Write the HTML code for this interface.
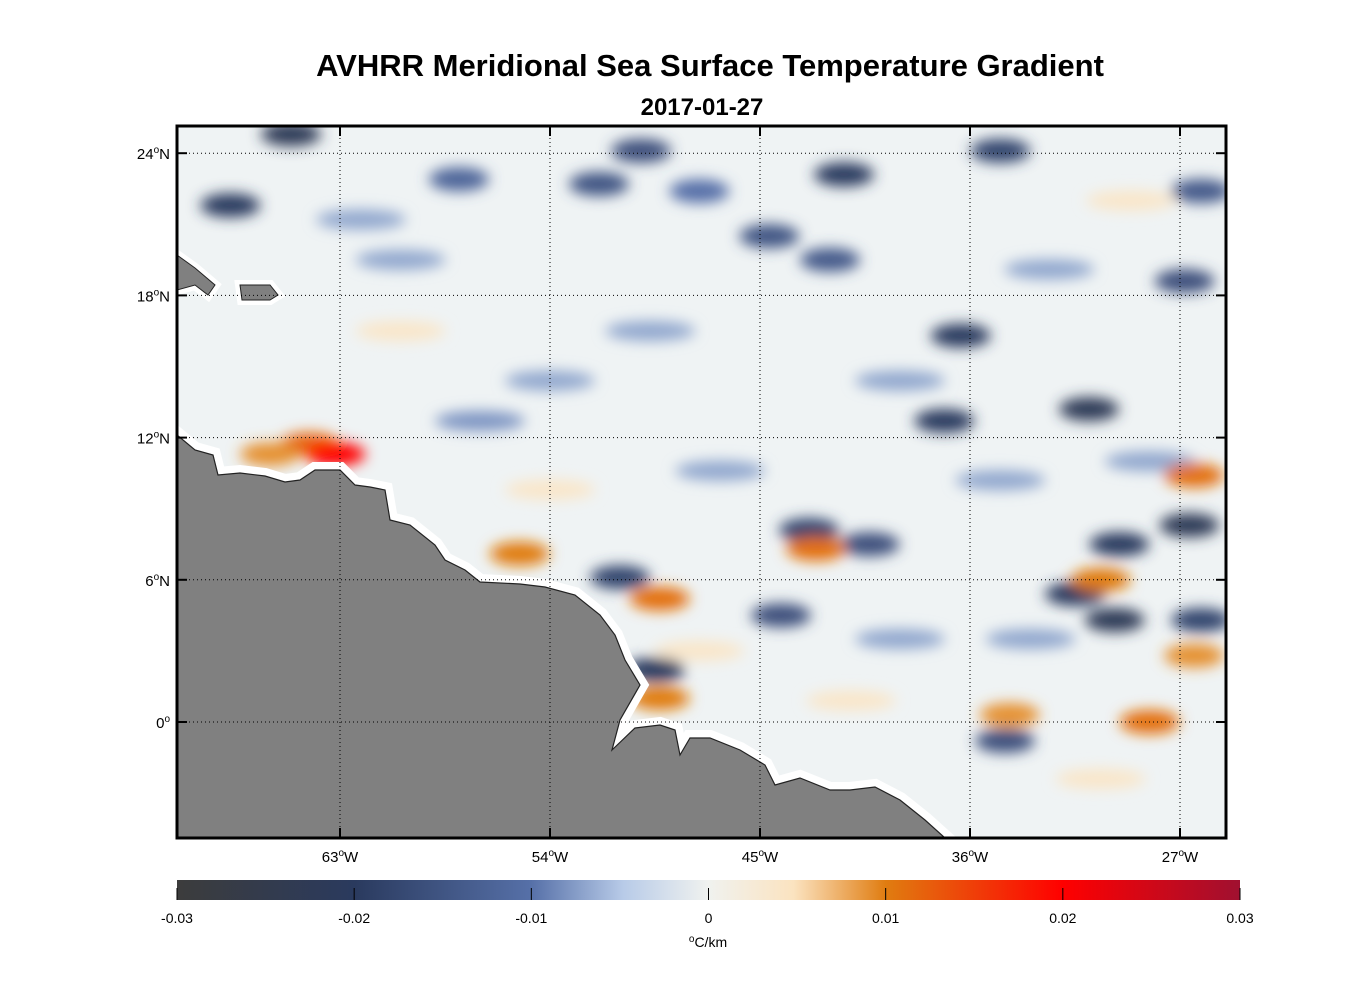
<!DOCTYPE html>
<html><head><meta charset="utf-8"><style>
body{margin:0;background:#fff;font-family:"Liberation Sans",sans-serif}
svg{display:block}
</style></head><body>
<svg id="c" width="1356" height="1000" xmlns="http://www.w3.org/2000/svg">
<defs>
<filter id="bl" x="-50%" y="-50%" width="200%" height="200%"><feGaussianBlur stdDeviation="7"/></filter>
<clipPath id="mc"><rect x="177" y="126" width="1049" height="712"/></clipPath>
<linearGradient id="cb" x1="0" x2="1" y1="0" y2="0">
<stop offset="0" stop-color="#3c3c3c"/><stop offset="0.167" stop-color="#2a3a5e"/>
<stop offset="0.333" stop-color="#5670a8"/><stop offset="0.42" stop-color="#b8cbe8"/>
<stop offset="0.5" stop-color="#f0f2ef"/><stop offset="0.58" stop-color="#fbe3c0"/>
<stop offset="0.667" stop-color="#e07c10"/><stop offset="0.833" stop-color="#ff0000"/>
<stop offset="1" stop-color="#a01030"/></linearGradient>
</defs>
<text x="710" y="76" text-anchor="middle" font-size="31" font-weight="bold">AVHRR Meridional Sea Surface Temperature Gradient</text>
<text x="702" y="115" text-anchor="middle" font-size="24" font-weight="bold">2017-01-27</text>
<g id="map" clip-path="url(#mc)">
<rect x="177" y="126" width="1049" height="712" fill="#eff3f4"/>
<g id="blobs" filter="url(#bl)"></g>
<g id="land"></g>
<g id="grid"></g>
</g>
<rect x="177" y="126" width="1049" height="712" fill="none" stroke="#000" stroke-width="3"/>
<g id="axes"></g>
<rect x="177" y="880" width="1063" height="20" fill="url(#cb)"/>
<g id="cbt"></g>
<text x="708" y="947" text-anchor="middle" font-size="14"><tspan font-size="10" dy="-5">o</tspan><tspan dy="5">C/km</tspan></text>
</svg>
<script>
const lonTicks=[63,54,45,36,27];
const latTicks=[24,18,12,6,0];
const cbTicks=[-0.03,-0.02,-0.01,0,0.01,0.02,0.03];
const cbLabels=["-0.03","-0.02","-0.01","0","0.01","0.02","0.03"];
// features: [lonW, lat, value]
const blobLon=[65.1,67.7,50.1,41.4,34.7,51.9,57.9,44.6,42,36.4,37.1,30.9,26.6,29.6,31.5,29.8,26.1,42.9,40.3,51,44.1,49.5,34.5,26.8,26.1,57,47.6,
60.4,54,49.7,39,32.6,46.7,34.7,39,33.4,28.3,62.1,
64.3,63.2,55.3,49.3,42.6,34.3,28.3,30.4,26.4,26.4,49.3,66,
54,47.6,41.1,30.4,60.4,29.1];
const blobLat=[24.8,21.8,24.1,23.1,24.1,22.7,22.9,20.5,19.5,16.3,12.7,13.2,8.3,7.5,5.4,4.3,4.3,8.1,7.5,6.1,4.5,2.2,-0.8,18.6,22.4,12.7,22.4,
19.5,14.4,16.5,14.4,19.1,10.6,10.2,3.5,3.5,11,21.2,
11.7,11.3,7.1,5.2,7.3,0.3,0,6,10.4,2.8,1,11.3,
9.8,3,0.9,-2.4,16.5,22];
const blobVal=[-0.022,-0.02,-0.016,-0.02,-0.018,-0.015,-0.012,-0.015,-0.014,-0.02,-0.02,-0.022,-0.022,-0.02,-0.02,-0.022,-0.018,-0.018,-0.016,-0.018,-0.016,-0.02,-0.016,-0.016,-0.014,-0.008,-0.01,
-0.007,-0.007,-0.007,-0.007,-0.007,-0.007,-0.007,-0.007,-0.007,-0.007,-0.007,
0.012,0.02,0.01,0.011,0.011,0.009,0.011,0.01,0.011,0.009,0.01,0.009,
0.004,0.004,0.004,0.004,0.004,0.004];
// coastline in pixel space
const coastPx=[[177,435],[195,450],[213,455],[218,475],[240,473],[265,476],[285,482],[300,480],[315,470],[340,470],[355,485],[370,487],[385,490],[390,520],[410,525],[435,545],[445,560],[465,570],[480,582],[520,584],[545,587],[575,595],[600,615],[615,635],[625,660],[640,685],[620,720],[612,750],[635,728],[660,725],[675,730],[680,755],[690,738],[710,738],[740,750],[765,765],[775,785],[800,778],[830,790],[850,790],[875,787],[900,800],[925,820],[945,838],[177,838]];
const X=l=>340+(63-l)*210/9, Y=a=>722-a*23.7;
function col(v){const s=[[-0.03,[60,60,60]],[-0.02,[42,58,94]],[-0.01,[86,112,168]],[-0.005,[184,203,232]],[0,[240,242,239]],[0.005,[251,227,192]],[0.01,[224,124,16]],[0.02,[255,0,0]],[0.03,[160,16,48]]];
 for(let i=0;i<s.length-1;i++){if(v<=s[i+1][0]){const t=(v-s[i][0])/(s[i+1][0]-s[i][0]);return 'rgb('+s[i][1].map((c,k)=>Math.round(c+(s[i+1][1][k]-c)*t)).join(',')+')';}}return 'rgb(160,16,48)';}
const NS='http://www.w3.org/2000/svg';
function mk(t,a,p){const e=document.createElementNS(NS,t);for(const k in a)e.setAttribute(k,a[k]);p.appendChild(e);return e;}
const B=document.getElementById('blobs');
blobLon.forEach((l,i)=>{const big=Math.abs(blobVal[i])>0.008;
const e=mk('ellipse',{cx:X(l),cy:Y(blobLat[i]),rx:big?30:45,ry:big?12:10,fill:col(blobVal[i])},B);

});
const L=document.getElementById('land');
const pts=coastPx.map(p=>p.join(',')).join(' ');
const halo=mk('polygon',{points:pts,fill:'#fff',stroke:'#fff','stroke-width':16},L);

const land=mk('polygon',{points:pts,fill:'#808080',stroke:'#222','stroke-width':1.2},L);

const isl=[[[177,255],[195,268],[215,285],[208,295],[195,285],[177,290]],[[240,285],[270,285],[278,295],[270,300],[242,300]]];
isl.forEach(p=>{mk('polygon',{points:p.map(q=>q.join(',')).join(' '),fill:'#fff',stroke:'#fff','stroke-width':10},L);
const e=mk('polygon',{points:p.map(q=>q.join(',')).join(' '),fill:'#808080',stroke:'#222','stroke-width':1},L);
});
const G=document.getElementById('grid'),A=document.getElementById('axes');
lonTicks.forEach(l=>{const x=X(l);
const g=mk('line',{x1:x,x2:x,y1:126,y2:838,stroke:'#000','stroke-width':1,'stroke-dasharray':'1,3'},G);

mk('line',{x1:x,x2:x,y1:126,y2:136,stroke:'#000','stroke-width':2},A);
mk('line',{x1:x,x2:x,y1:828,y2:838,stroke:'#000','stroke-width':2},A);
const t=mk('text',{x:x,y:862,'text-anchor':'middle','font-size':15},A);
t.innerHTML=l+'<tspan font-size="10" dy="-6">o</tspan><tspan dy="6">W</tspan>';
});
latTicks.forEach(a=>{const y=Y(a);
const g=mk('line',{x1:177,x2:1226,y1:y,y2:y,stroke:'#000','stroke-width':1,'stroke-dasharray':'1,3'},G);

mk('line',{x1:177,x2:187,y1:y,y2:y,stroke:'#000','stroke-width':2},A);
mk('line',{x1:1216,x2:1226,y1:y,y2:y,stroke:'#000','stroke-width':2},A);
const t=mk('text',{x:170,y:y+6,'text-anchor':'end','font-size':15},A);
t.innerHTML=a+'<tspan font-size="10" dy="-6">o</tspan><tspan dy="6">'+(a?'N':'')+'</tspan>';
});
const C=document.getElementById('cbt');
cbTicks.forEach((v,i)=>{const x=177+(v+0.03)/0.06*1063;
mk('line',{x1:x,x2:x,y1:888,y2:900,stroke:'#000','stroke-width':1},C);
const t=mk('text',{x:x,y:923,'text-anchor':'middle','font-size':14},C);t.textContent=cbLabels[i];
});
</script>
</body></html>
